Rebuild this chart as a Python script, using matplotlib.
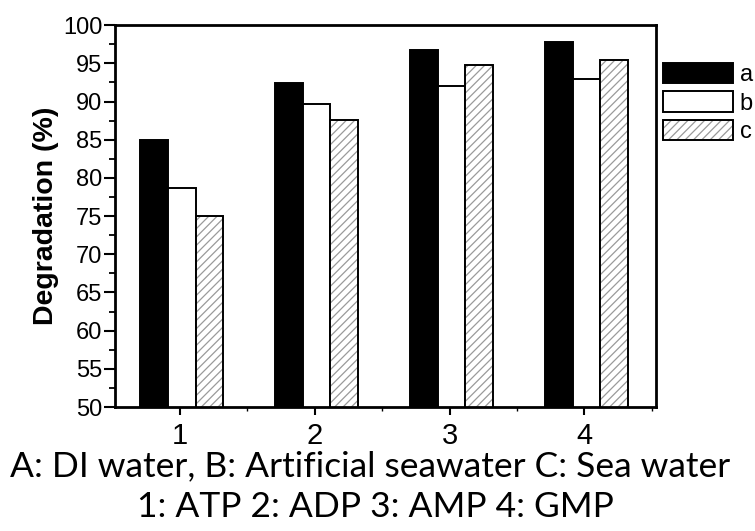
import numpy as np
import matplotlib
matplotlib.use("Agg")
import matplotlib.pyplot as plt
from matplotlib.patches import Patch
from matplotlib.ticker import MultipleLocator

# ---------------- DATA ----------------
groups = [1, 2, 3, 4]
series_labels = ["a", "b", "c"]
deg_a = [85.0, 92.4, 96.8, 97.8]   # DI water
deg_b = [78.7, 89.7, 92.0, 93.0]   # artificial seawater
deg_c = [75.0, 87.6, 94.8, 95.4]   # sea water
caption_1 = "A: DI water, B: Artificial seawater C: Sea water"
caption_2 = "1: ATP 2: ADP 3: AMP 4: GMP"
# --------------------------------------

plt.rcParams["font.family"] = ["Liberation Sans", "DejaVu Sans"]
plt.rcParams["hatch.linewidth"] = 0.9

fig = plt.figure(figsize=(7.55, 5.31), dpi=100)
ax = fig.add_axes([0.1523, 0.2335, 0.7165, 0.719])

x = np.array(groups, dtype=float)
width = 0.205
offsets = [-0.19, 0.015, 0.22]
edge_lw = 1.4
hatch_grey = "#9a9a9a"

ax.bar(x + offsets[0], deg_a, width, color="black", edgecolor="black",
       linewidth=edge_lw)
ax.bar(x + offsets[1], deg_b, width, color="white", edgecolor="black",
       linewidth=edge_lw)
# hatch drawn in grey, outline drawn on top in black
ax.bar(x + offsets[2], deg_c, width, color="white", edgecolor=hatch_grey,
       linewidth=0, hatch="////")
ax.bar(x + offsets[2], deg_c, width, fill=False, edgecolor="black",
       linewidth=edge_lw)

ax.set_xlim(0.52, 4.53)
ax.set_ylim(50, 100)
ax.set_xticks(groups)
ax.xaxis.set_minor_locator(MultipleLocator(0.5))
ax.yaxis.set_major_locator(MultipleLocator(5))
ax.yaxis.set_minor_locator(MultipleLocator(2.5))

ax.tick_params(axis="y", which="major", direction="out", length=8,
               width=1.5, labelsize=17, pad=1)
ax.tick_params(axis="y", which="minor", direction="out", length=4, width=1.3)
ax.tick_params(axis="x", which="major", direction="out", length=6,
               width=1.5, labelsize=21, pad=5)
ax.tick_params(axis="x", which="minor", direction="out", length=3, width=1.0)
for s in ax.spines.values():
    s.set_linewidth(2)

ax.set_ylabel("Degradation (%)", fontsize=20.5, fontweight="bold", labelpad=3)

# legend sits outside the axes on the right
h_a = Patch(facecolor="black", edgecolor="black", linewidth=edge_lw)
h_b = Patch(facecolor="white", edgecolor="black", linewidth=edge_lw)
h_c = (Patch(facecolor="white", edgecolor=hatch_grey, linewidth=0, hatch="////"),
       Patch(fill=False, edgecolor="black", linewidth=edge_lw))
fig.legend([h_a, h_b, h_c], series_labels, loc="upper left",
           bbox_to_anchor=(663 / 755, 1 - 63 / 531), frameon=False,
           fontsize=17, handlelength=2.95, handleheight=0.95,
           handletextpad=0.3, labelspacing=0.22, borderpad=0,
           borderaxespad=0)

fig.text(0.49, 1 - 466 / 531, caption_1, ha="center", va="center",
         fontsize=25.5, family=["Lato", "DejaVu Sans"])
fig.text(0.497, 1 - 507 / 531, caption_2, ha="center", va="center",
         fontsize=25.5, family=["Lato", "DejaVu Sans"])

fig.savefig("out.png", dpi=100)
